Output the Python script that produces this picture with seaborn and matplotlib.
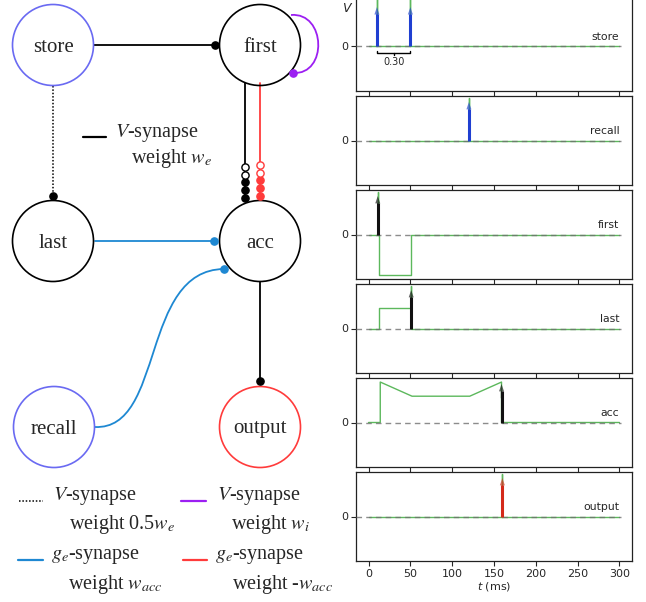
import matplotlib
matplotlib.use("Agg")
import matplotlib.pyplot as plt
import seaborn as sns
import numpy as np
from matplotlib.patches import Circle, PathPatch
from matplotlib.path import Path

# ---- network diagram (pixel units) ----
node_names = ["store", "first", "last", "acc", "recall", "output"]
node_x = [53, 260, 53, 260, 54, 260]
node_y = [45, 45, 241, 241, 427, 427]
node_colors = ["#6a6af2", "black", "black", "black", "#6a6af2", "#ff3b3b"]
node_r = 40.5

# synapse colours
c_black = "black"
c_purple = "#9c1ff2"
c_blue = "#1e88d2"
c_red = "#ff3b3b"

# curved synapses (bezier control points)
recall_acc_pts = [(95, 427), (165, 430), (140, 270), (224, 269)]
first_loop_pts = [(291, 15), (326, 12), (328, 75), (293, 73)]

# ---- voltage traces ----
t_ticks = [0, 50, 100, 150, 200, 250, 300]
panel_names = ["store", "recall", "first", "last", "acc", "output"]
store_t = [0, 10, 10, 10, 50, 50, 50, 300]
store_v = [0, 0, 1.2, 0, 0, 1.2, 0, 0]
recall_t = [0, 120, 120, 120, 300]
recall_v = [0, 0, 1.05, 0, 0]
first_t = [0, 11, 11, 11, 13, 13, 51, 51, 300]
first_v = [0, 0, 1.05, 0, 0, -1, -1, 0, 0]
last_t = [0, 12, 12, 51, 51, 51, 300]
last_v = [0, 0, 0.5, 0.5, 1.05, 0, 0]
acc_t = [0, 14, 14, 52, 121, 159, 159, 300]
acc_v = [0, 0, 1.0, 0.65, 0.65, 1.0, 0, 0]
output_t = [0, 160, 160, 160, 300]
output_v = [0, 0, 1.05, 0, 0]

store_spikes = [10, 50]
recall_spikes = [120]
first_spikes = [11]
last_spikes = [51]
acc_spikes = [159]
output_spikes = [160]
spike_colors = ["#1f3fd1", "#1f3fd1", "#111111", "#111111", "#111111", "#d42a1a"]

traces = [(store_t, store_v, store_spikes), (recall_t, recall_v, recall_spikes),
          (first_t, first_v, first_spikes), (last_t, last_v, last_spikes),
          (acc_t, acc_v, acc_spikes), (output_t, output_v, output_spikes)]

sns.set_style("ticks")
plt.rcParams["font.family"] = ["DejaVu Sans"]
plt.rcParams["mathtext.fontset"] = "stix"
serif = ["Liberation Serif", "DejaVu Serif"]

W, H = 646, 602
fig = plt.figure(figsize=(W / 100, H / 100), dpi=100)

# ---------------- left: diagram ----------------
ax = fig.add_axes([0, 0, 330 / W, 1])
ax.set_xlim(0, 330)
ax.set_ylim(H, 0)
ax.axis("off")

pos = {n: (x, y) for n, x, y in zip(node_names, node_x, node_y)}
for n, col in zip(node_names, node_colors):
    x, y = pos[n]
    ax.add_patch(Circle((x, y), node_r, fill=False, ec=col, lw=1.2, zorder=3))
    ax.text(x, y + 2, n, ha="center", va="center", fontsize=15, family=serif, zorder=4)


def dot(x, y, col, filled=True):
    ax.plot([x], [y], "o", ms=5.2, color=col, mfc=col if filled else "white",
            mew=1.0, zorder=5)


lw = 1.3
# store -> first
ax.plot([94, 215], [45, 45], color=c_black, lw=lw)
dot(215, 45, c_black)
# store -> last (dotted)
ax.plot([53, 53], [86, 196], color=c_black, lw=1.1, ls=(0, (1, 1.2)))
dot(53, 196, c_black)
# last -> acc
ax.plot([95, 214], [241, 241], color=c_blue, lw=lw)
dot(214, 241, c_blue)
# acc -> output
ax.plot([260, 260], [282, 381], color=c_black, lw=lw)
dot(260, 381, c_black)
# first -> acc, black and red with dot chains
for xc, y_end, col in [(245, 198, c_black), (260, 196, c_red)]:
    ax.plot([xc, xc], [83, y_end], color=col, lw=lw)
    for k in range(5):
        dot(xc, y_end - 7.8 * k, col, filled=k < 3)

# curved synapses
for pts, col in [(recall_acc_pts, c_blue), (first_loop_pts, c_purple)]:
    path = Path(pts, [Path.MOVETO, Path.CURVE4, Path.CURVE4, Path.CURVE4])
    ax.add_patch(PathPatch(path, fill=False, ec=col, lw=lw))
    dot(pts[-1][0], pts[-1][1], col)

# legend entries
fs = 14.5
ax.plot([83, 106], [137, 137], color=c_black, lw=1.6)
ax.text(115, 137, "$V$-synapse", fontsize=fs, family=serif, va="baseline")
ax.text(131, 163, "weight $w_e$", fontsize=fs, family=serif, va="baseline")

ax.plot([19, 43], [501, 501], color=c_black, lw=1.1, ls=(0, (1, 1.2)))
ax.text(53, 500, "$V$-synapse", fontsize=fs, family=serif, va="baseline")
ax.text(69, 529, "weight 0.5$w_e$", fontsize=fs, family=serif, va="baseline")
ax.plot([181, 206], [501, 501], color=c_purple, lw=1.6)
ax.text(217, 500, "$V$-synapse", fontsize=fs, family=serif, va="baseline")
ax.text(231, 529, "weight $w_i$", fontsize=fs, family=serif, va="baseline")
ax.plot([18, 43], [560, 560], color=c_blue, lw=1.6)
ax.text(51, 559, "$g_e$-synapse", fontsize=fs, family=serif, va="baseline")
ax.text(68, 589, "weight $w_{acc}$", fontsize=fs, family=serif, va="baseline")
ax.plot([183, 207], [560, 560], color=c_red, lw=1.6)
ax.text(215, 559, "$g_e$-synapse", fontsize=fs, family=serif, va="baseline")
ax.text(232, 589, "weight -$w_{acc}$", fontsize=fs, family=serif, va="baseline")

# ---------------- right: voltage panels ----------------
left, right = 356, 632
axes = []
for i, (name, (tt, vv, spikes), scol) in enumerate(zip(panel_names, traces, spike_colors)):
    top = 2 + 94 * i
    bot = top + 89
    ylim = (-1.1, 1.1)
    if i == 0:
        top = -3
        ylim = (-1.1, 1.1 * (46 - top) / (bot - 46))
    a = fig.add_axes([left / W, 1 - bot / H, (right - left) / W, (bot - top) / H],
                     sharex=axes[0] if axes else None)
    axes.append(a)
    sns.lineplot(x=tt, y=vv, ax=a, color="#5cb85c", lw=1.0, estimator=None,
                 sort=False, zorder=2)
    a.plot([-15, 302], [0, 0], ls=(0, (4, 3)), color="#707070", lw=1.0, alpha=0.8, zorder=3)
    for ts in spikes:
        a.vlines(ts, 0, 0.78, color=scol, lw=2.2, zorder=4)
        a.arrow(ts, 0.6, 0, 0.35, width=1.8, head_width=6, head_length=0.18,
                length_includes_head=True, color=scol, alpha=0.65, lw=0, zorder=5)
    a.text(300, 0.1, name, ha="right", va="bottom", fontsize=7.8)
    a.set_xlim(-15, 315)
    a.set_ylim(*ylim)
    a.set_yticks([0])
    a.set_xticks(t_ticks)
    a.tick_params(labelsize=8, length=3.5, width=0.8, pad=2)
    for s in a.spines.values():
        s.set_visible(True)
        s.set_linewidth(0.9)
        s.set_color("#222222")
    a.set_ylabel("")
    if i < 5:
        a.tick_params(labelbottom=False)

# scale bar under first store spikes
a0 = axes[0]
a0.plot([10, 10, 50, 50], [-0.11, -0.18, -0.18, -0.11], color="black", lw=1.0)
a0.plot([30, 30], [-0.18, -0.23], color="black", lw=1.0)
a0.text(30, -0.27, "0.30", ha="center", va="top", fontsize=7)

fig.text(346 / W, 1 - 9 / H, "V", fontsize=9, fontstyle="italic", ha="center", va="center")
axes[-1].set_xlabel("$t$ (ms)", fontsize=8, labelpad=1, math_fontfamily="dejavusans")

fig.savefig("out.png", dpi=100)
